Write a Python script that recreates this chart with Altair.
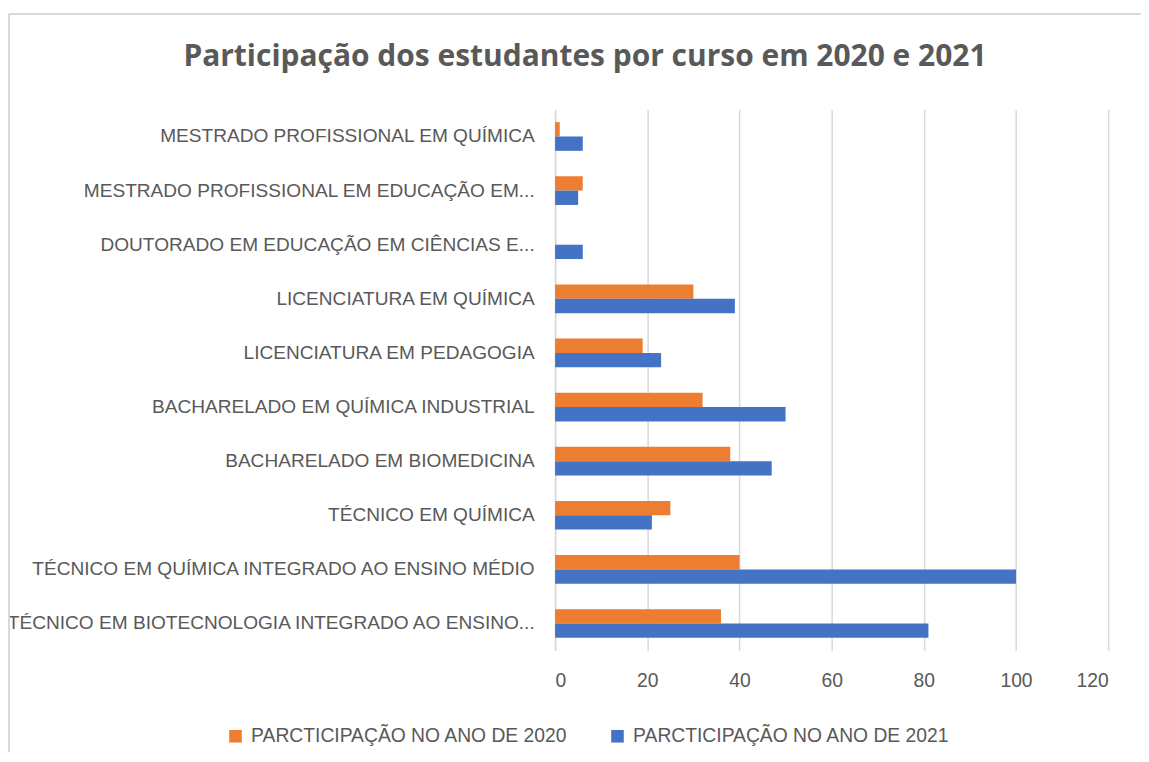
import altair as alt
import pandas as pd

categories = [
    "MESTRADO PROFISSIONAL EM QUÍMICA",
    "MESTRADO PROFISSIONAL EM EDUCAÇÃO EM...",
    "DOUTORADO EM EDUCAÇÃO EM CIÊNCIAS E...",
    "LICENCIATURA EM QUÍMICA",
    "LICENCIATURA EM PEDAGOGIA",
    "BACHARELADO EM QUÍMICA INDUSTRIAL",
    "BACHARELADO EM BIOMEDICINA",
    "TÉCNICO EM QUÍMICA",
    "TÉCNICO EM QUÍMICA INTEGRADO AO ENSINO MÉDIO",
    "TÉCNICO EM BIOTECNOLOGIA INTEGRADO AO ENSINO...",
]
v2020 = [1, 6, 0, 30, 19, 32, 38, 25, 40, 36]
v2021 = [6, 5, 6, 39, 23, 50, 47, 21, 100, 81]
series = ["PARCTICIPAÇÃO NO ANO DE 2020", "PARCTICIPAÇÃO NO ANO DE 2021"]
colors = ["#ED7D31", "#4472C4"]
x_ticks = [0, 20, 40, 60, 80, 100, 120]

rows = []
for c, a, b in zip(categories, v2020, v2021):
    rows.append({"curso": c, "serie": series[0], "valor": a})
    rows.append({"curso": c, "serie": series[1], "valor": b})
df = pd.DataFrame(rows)

FONT = "Liberation Sans"
GRAY = "#595959"
FS = 19.4

bars = alt.Chart(df).mark_bar().encode(
    y=alt.Y(
        "curso:N",
        sort=categories,
        scale=alt.Scale(paddingInner=0.47, paddingOuter=0.235),
        axis=alt.Axis(
            title=None, labelFontSize=19.2, labelColor=GRAY, labelFont=FONT,
            ticks=False, domain=True, domainColor="#d9d9d9", domainWidth=1.5,
            labelPadding=21, labelLimit=600,
        ),
    ),
    x=alt.X(
        "valor:Q",
        scale=alt.Scale(domain=[0, 120], nice=False),
        axis=alt.Axis(
            values=x_ticks, title=None, grid=True, gridColor="#d9d9d9",
            gridWidth=1.5, domain=False, ticks=False, labelPadding=21,
            labelFontSize=FS, labelColor=GRAY, labelFont=FONT,
        ),
    ),
    yOffset=alt.YOffset("serie:N", sort=series),
    color=alt.Color(
        "serie:N",
        scale=alt.Scale(domain=series, range=colors),
        legend=alt.Legend(
            title=None, orient="none", legendX=-331, legendY=620,
            direction="horizontal", symbolType="square", symbolSize=160,
            symbolStrokeWidth=0, labelFontSize=FS, labelColor=GRAY,
            labelFont=FONT, columnPadding=40, labelOffset=6,
            labelLimit=400,
        ),
    ),
)

one = pd.DataFrame({"k": [0]})
border_top = alt.Chart(one).mark_rule(color="#d9d9d9", strokeWidth=2).encode(
    x=alt.value(-549), x2=alt.value(640), y=alt.value(-96)
)
border_left = alt.Chart(one).mark_rule(color="#d9d9d9", strokeWidth=2).encode(
    x=alt.value(-549), y=alt.value(-96), y2=alt.value(700)
)

chart = alt.layer(border_top, border_left, bars).properties(
    width=556,
    height=544,
    autosize=alt.AutoSizeParams(type="none"),
    padding={"left": 550, "top": 100, "right": 33, "bottom": 100},
    title=alt.TitleParams(
        "Participação  dos estudantes por curso em 2020 e 2021",
        font="Open Sans", fontSize=30.1, fontWeight="bold", color=GRAY,
        anchor="middle", frame="group", offset=36, dx=-248, dy=95,
    ),
).configure_view(stroke=None)

chart.save("out.html", embed_options={"renderer": "svg", "actions": False})
